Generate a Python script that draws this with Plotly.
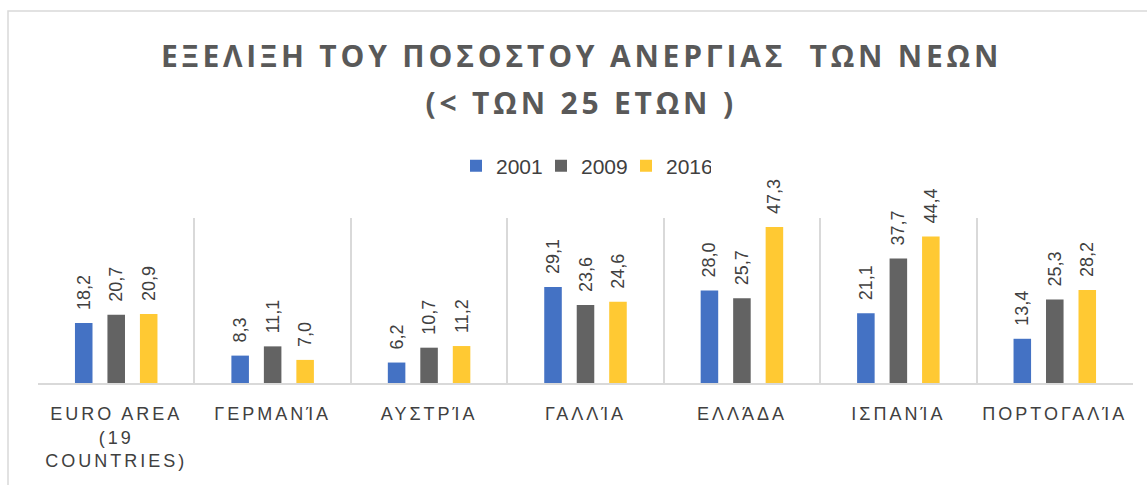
import plotly.graph_objects as go

categories = ["EURO AREA<br>(19<br>COUNTRIES)", "ΓΕΡΜΑΝΊΑ", "ΑΥΣΤΡΊΑ", "ΓΑΛΛΊΑ", "ΕΛΛΆΔΑ", "ΙΣΠΑΝΊΑ", "ΠΟΡΤΟΓΑΛΊΑ"]
series_names = ["2001", "2009", "2016"]
values_2001 = [18.2, 8.3, 6.2, 29.1, 28.0, 21.1, 13.4]
values_2009 = [20.7, 11.1, 10.7, 23.6, 25.7, 37.7, 25.3]
values_2016 = [20.9, 7.0, 11.2, 24.6, 47.3, 44.4, 28.2]
title_line1 = "ΕΞΕΛΙΞΗ ΤΟΥ ΠΟΣΟΣΤΟΥ ΑΝΕΡΓΙΑΣ \u00a0ΤΩΝ ΝΕΩΝ"
title_line2 = "(< ΤΩΝ 25 ΕΤΩΝ )"

colors = ["#4472C4", "#636363", "#FFC933"]
all_values = [values_2001, values_2009, values_2016]

fig = go.Figure()
for name, vals, col in zip(series_names, all_values, colors):
    fig.add_trace(go.Bar(
        x=categories, y=vals, name=name,
        marker=dict(color=col, line=dict(width=0)),
        texttemplate="\u00a0\u00a0%{y:.1f}",
        textposition="outside", textangle=-90, constraintext="none",
        textfont=dict(family="Liberation Sans", size=18, color="#404040"),
        cliponaxis=False,
    ))

W, H = 1147, 485
L, R, T, B = 38, 14, 218, 102
pw, ph = W - L - R, H - T - B

def px(x):
    return (x - L) / pw

def py(y):
    return (H - B - y) / ph

fig.update_layout(
    width=W, height=H,
    margin=dict(l=L, r=R, t=T, b=B),
    paper_bgcolor="white", plot_bgcolor="white",
    separators=",.",
    barmode="group", bargap=0.377, bargroupgap=0.46,
    showlegend=True,
    legend=dict(orientation="h", x=px(456), xanchor="left", y=py(166), yanchor="middle",
                font=dict(family="Liberation Sans", size=21, color="#404040"),
                itemwidth=30, entrywidth=40, entrywidthmode="pixels",
                tracegroupgap=0, bgcolor="rgba(0,0,0,0)"),
    xaxis=dict(type="category", tickson="boundaries", showgrid=True, gridcolor="#D9D9D9", gridwidth=1.5,
               showline=True, linecolor="#D9D9D9", linewidth=1.5, ticks="",
               ticklabelstandoff=14,
               tickfont=dict(family="Liberation Sans", size=18, color="#404040")),
    yaxis=dict(range=[0, 50], visible=False, showgrid=False, zeroline=False),
    annotations=[
        dict(text=title_line1, xref="paper", yref="paper", x=px(581), y=py(56), xanchor="center", yanchor="middle",
             showarrow=False, font=dict(family="Open Sans", size=30, color="#595959", weight="bold")),
        dict(text=title_line2, xref="paper", yref="paper", x=px(581), y=py(103), xanchor="center", yanchor="middle",
             showarrow=False, font=dict(family="Open Sans", size=30, color="#595959", weight="bold")),
    ],
    shapes=[
        dict(type="rect", xref="paper", yref="paper", x0=px(8), x1=px(1160), y0=py(500), y1=py(11),
             line=dict(color="#D9D9D9", width=1.5), fillcolor="rgba(0,0,0,0)", layer="below"),
    ],
)

post = """
document.body.style.margin='0';
document.body.style.padding='0';
var s=document.createElement('style');
s.textContent='body{margin:0 !important;} .xtick text{letter-spacing:3px !important;} .annotation-text{letter-spacing:3.8px !important;}';
document.head.appendChild(s);
"""
fig.write_html("out.html", post_script=post, config={"displayModeBar": False})
